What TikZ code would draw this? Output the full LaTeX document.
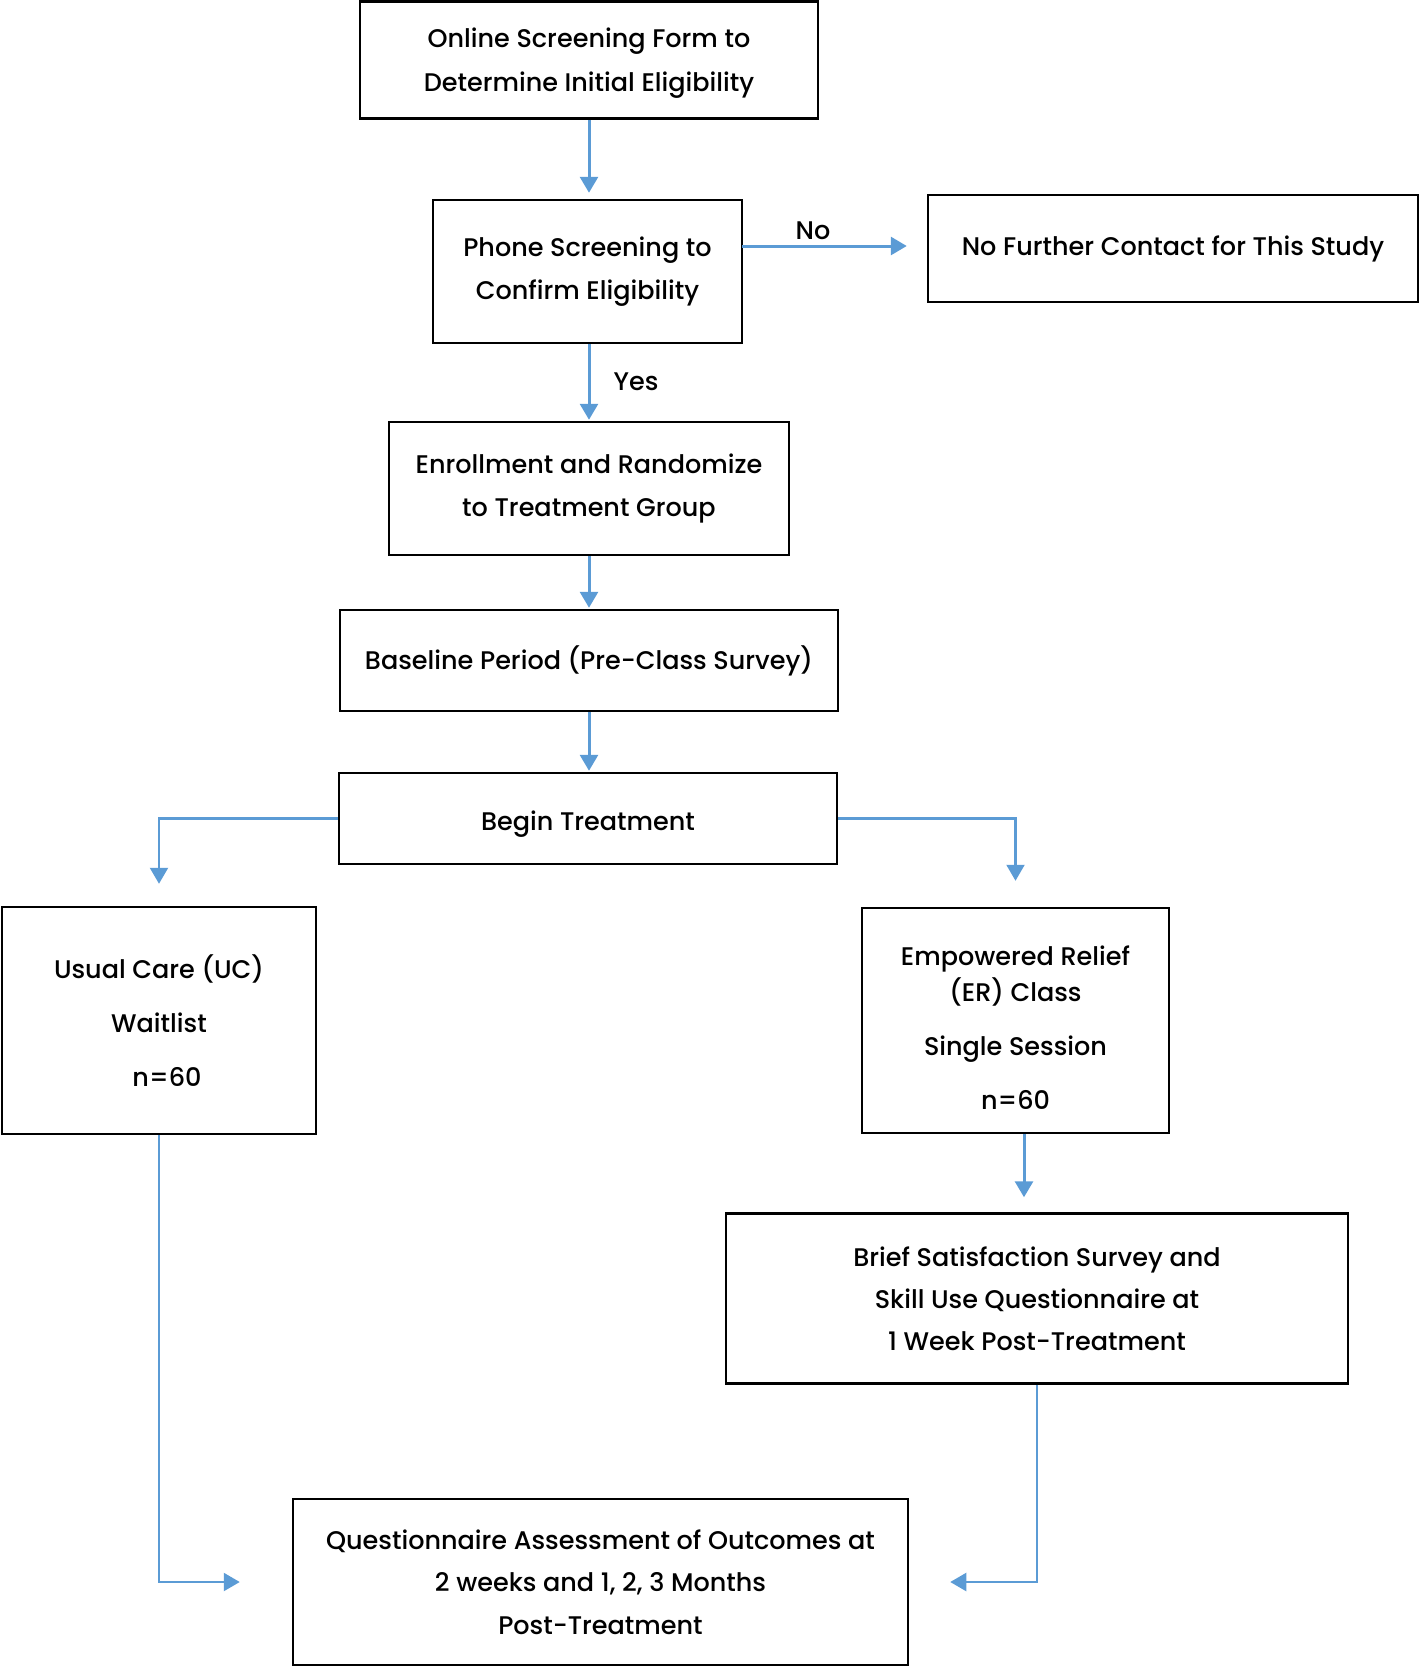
\documentclass[tikz,border=0pt]{standalone}
\usepackage{fontspec}
\setmainfont{Poppins}[UprightFont=* Medium]
\usetikzlibrary{arrows.meta}
\definecolor{arrblue}{RGB}{91,155,213}
\begin{document}
\begin{tikzpicture}[x=1pt,y=-1pt,
  box/.style={draw=black, line width=2.5pt, align=center, inner sep=0pt,
    font=\fontsize{25.5}{43.5}\selectfont},
  txt/.style={align=center, inner sep=0pt, font=\fontsize{25.5}{43.5}\selectfont},
  arr/.style={draw=arrblue, line width=3pt, -{Triangle[width=18pt,length=16pt]}},
  elb/.style={draw=arrblue, line width=2.2pt, -{Triangle[width=18pt,length=16pt]}},
  lbl/.style={font=\fontsize{25.5}{28}\selectfont, inner sep=0pt}]
\useasboundingbox (0,0) rectangle (1420,1666);
\node[box, minimum width=458pt, minimum height=117pt] (online) at (589,60) {};
\node[txt] (onlinetxt) at (589,63) {Online Screening Form to\\Determine Initial Eligibility};
\node[box, minimum width=309pt, minimum height=143pt] (phone) at (587.5,271.5)
  {Phone Screening to\\Confirm Eligibility};
\node[box, minimum width=490pt, minimum height=107pt] (nofurther) at (1173,248.5)
  {No Further Contact for This Study};
\node[box, minimum width=400pt, minimum height=133pt] (enroll) at (589,488.5)
  {Enrollment and Randomize\\to Treatment Group};
\node[box, minimum width=498pt, minimum height=101pt] (baseline) at (589,660.5)
  {Baseline Period (Pre-Class Survey)};
\node[box, minimum width=498pt, minimum height=91pt] (begin) at (588,818.5) {};
\node[txt] (begintxt) at (588,824) {Begin Treatment};
\node[box, minimum width=314pt, minimum height=227pt, font=\fontsize{25.5}{54}\selectfont] (usual) at (159,1020.5)
  {Usual Care (UC)\\Waitlist\\\hspace*{16pt}n=60};
\node[box, minimum width=307pt, minimum height=225pt] (emp) at (1015.5,1020.5) {};
\node[txt, font=\fontsize{25.5}{36}\selectfont] (emptxt) at (1015.5,1028)
  {Empowered Relief\\(ER) Class\\[18pt]Single Session\\[18pt]n=60};
\node[box, minimum width=622pt, minimum height=170pt, font=\fontsize{25.5}{42}\selectfont] (brief) at (1037,1298.5)
  {Brief Satisfaction Survey and\\Skill Use Questionnaire at\\1 Week Post-Treatment};
\node[box, minimum width=615pt, minimum height=166pt, font=\fontsize{25.5}{42.5}\selectfont] (quest) at (600.5,1582)
  {Questionnaire Assessment of Outcomes at\\2 weeks and 1, 2, 3 Months\\Post-Treatment};
% connectors
\draw[arr, shorten >=6pt] (online.south) -- (online.south |- phone.north);
\coordinate (pn) at (742,246);
\draw[arr, shorten >=20pt] (pn) -- (pn -| nofurther.west);
\node[lbl] (nolbl) at (813,231) {No};
\draw[arr, shorten >=1pt] (phone.south -| enroll.north) -- (enroll.north);
\node[lbl] (yeslbl) at (636,382) {Yes};
\draw[arr, shorten >=1pt] (enroll.south) -- (baseline.north);
\draw[arr, shorten >=1pt] (baseline.south) -- (baseline.south |- begin.north);
\draw[elb, shorten >=22pt] (begin.west) -| (usual.north);
\draw[elb, shorten >=26pt] (begin.east) -| (emp.north);
\coordinate (ebx) at (1024,1134);
\draw[arr, shorten >=15pt] (ebx) -- (ebx |- brief.north);
\draw[elb, shorten >=52pt] (usual.south) |- (quest.west);
\draw[elb, shorten >=41pt] (brief.south) |- (quest.east);
\end{tikzpicture}
\end{document}
